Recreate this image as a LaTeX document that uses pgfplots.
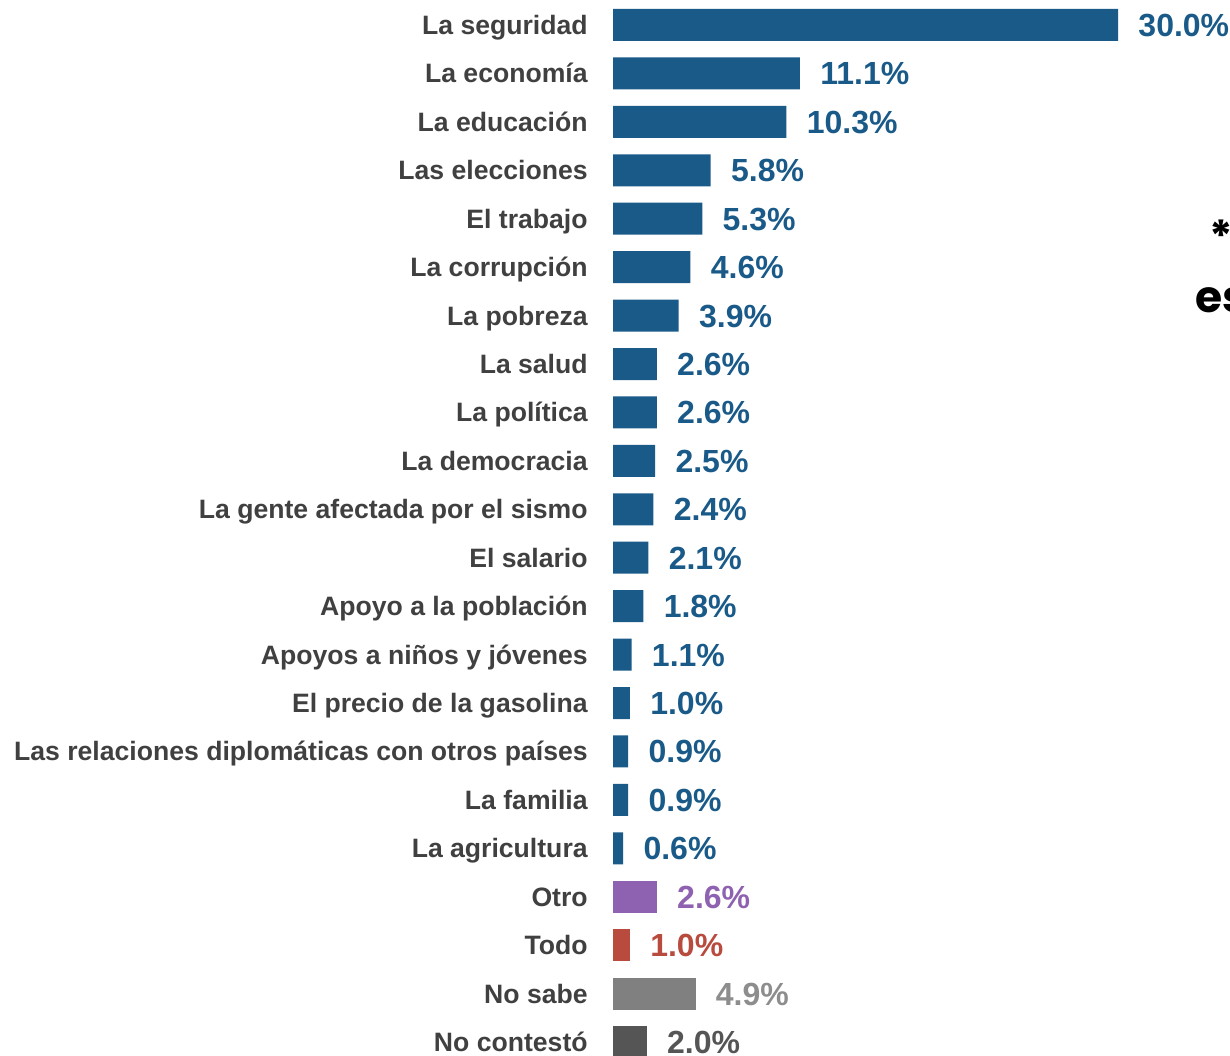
\documentclass[border=0pt]{standalone}
\usepackage{pgfplots}
\pgfplotsset{compat=1.18}
\usepackage{fontspec}
\setmainfont{Liberation Sans}
\newfontfamily\popfont{Poppins}
\definecolor{cblue}{HTML}{1A5A88}
\definecolor{cpurple}{HTML}{8E62B0}
\definecolor{cred}{HTML}{B84B3E}
\definecolor{cgrey}{HTML}{808080}
\definecolor{cdark}{HTML}{555555}
\definecolor{lblgray}{HTML}{404040}
\begin{document}
\begin{tikzpicture}
\begin{axis}[
  xbar,
  x=8.4167pt, y=24.215pt,
  y dir=reverse,
  xmin=0, xmax=30,
  ymin=-0.5, ymax=21.5,
  bar width=16pt,
  axis line style={draw=none},
  tick style={draw=none},
  major tick length=0pt,
  xtick=\empty,
  ytick={0,...,21},
  yticklabels={
    La seguridad, La economía, La educación, Las elecciones, El trabajo,
    La corrupción, La pobreza, La salud, La política, La democracia,
    La gente afectada por el sismo, El salario, Apoyo a la población,
    Apoyos a niños y jóvenes, El precio de la gasolina,
    Las relaciones diplomáticas con otros países, La familia,
    La agricultura, Otro, Todo, No sabe, No contestó},
  % fixed box height so every label sits at the same baseline
  yticklabel style={font=\fontsize{13.3}{15}\selectfont\bfseries,
    text=lblgray, anchor=east, inner sep=0pt, xshift=-12.5pt,
    text height=9.5pt, text depth=0pt},
  /pgf/number format/assume math mode=true,
  nodes near coords={\pgfmathprintnumber[fixed,fixed zerofill,precision=1]{\pgfplotspointmeta}\%},
  nodes near coords style={font=\fontsize{16}{18}\selectfont\bfseries,
    anchor=west, inner sep=0pt, xshift=10pt, text height=11.5pt, text depth=0pt},
  clip=false,
]
\addplot[bar shift=0pt, fill=cblue, draw=none,
  every node near coord/.append style={text=cblue}] coordinates {
  (30.0,0) (11.1,1) (10.3,2) (5.8,3) (5.3,4) (4.6,5) (3.9,6) (2.6,7)
  (2.6,8) (2.5,9) (2.4,10) (2.1,11) (1.8,12) (1.1,13) (1.0,14)
  (0.9,15) (0.9,16) (0.6,17)
};
\addplot[bar shift=0pt, fill=cpurple, draw=none,
  every node near coord/.append style={text=cpurple}] coordinates {(2.6,18)};
\addplot[bar shift=0pt, fill=cred, draw=none,
  every node near coord/.append style={text=cred}] coordinates {(1.0,19)};
\addplot[bar shift=0pt, fill=cgrey, draw=none,
  every node near coord/.append style={text=cgrey!90!white}] coordinates {(4.9,20)};
\addplot[bar shift=0pt, fill=cdark, draw=none,
  every node near coord/.append style={text=cdark}] coordinates {(2.0,21)};
% cut-off note text at the right edge
\node[font=\popfont\fontsize{22}{24}\selectfont\bfseries, anchor=center]
  at (axis cs:36.12,4.36) {*};
\node[font=\popfont\fontsize{22}{24}\selectfont\bfseries, anchor=base west, inner sep=0pt]
  at (axis cs:34.57,5.93) {es};
\coordinate (bbA) at (axis cs:-36.42,-0.516);
\coordinate (bbB) at (axis cs:36.65,21.287);
\end{axis}
\pgfresetboundingbox
\path[use as bounding box] (bbA) rectangle (bbB);
\end{tikzpicture}
\end{document}
